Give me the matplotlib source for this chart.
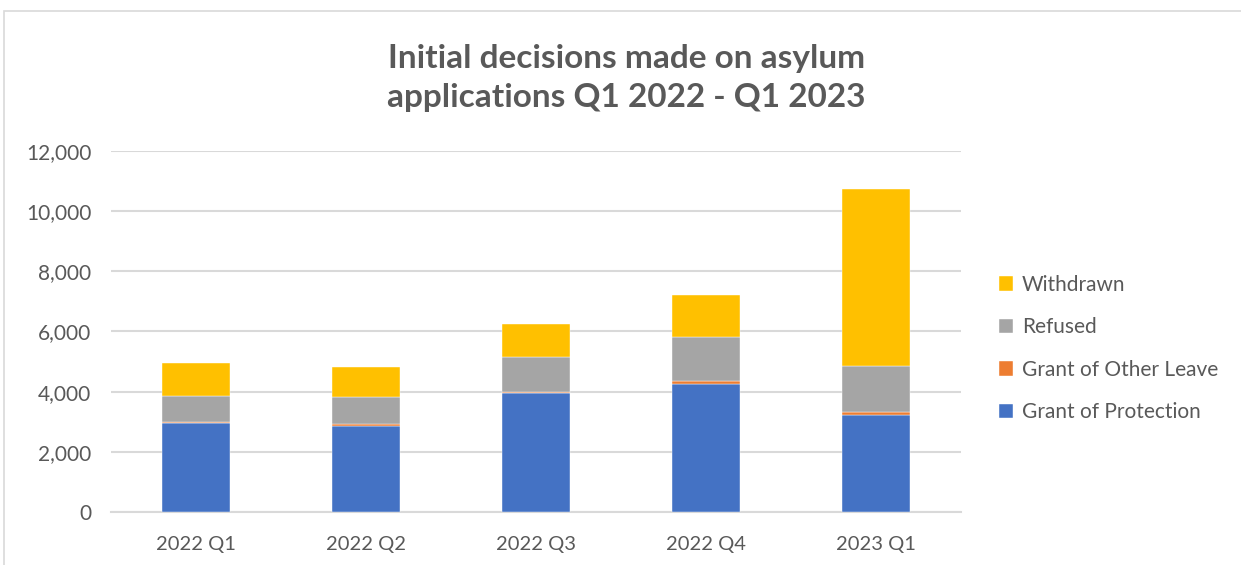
import matplotlib
matplotlib.use('Agg')
import matplotlib.pyplot as plt
from matplotlib.patches import Rectangle
import numpy as np

## Data
quarters = ["2022 Q1", "2022 Q2", "2022 Q3", "2022 Q4", "2023 Q1"]
protection = [2960, 2870, 3950, 4270, 3220]
other_leave = [40, 50, 40, 70, 90]
refused = [870, 890, 1150, 1480, 1550]
withdrawn = [1070, 1000, 1120, 1400, 5870]

series = [
    ("Grant of Protection", protection, "#4472C4"),
    ("Grant of Other Leave", other_leave, "#ED7D31"),
    ("Refused", refused, "#A5A5A5"),
    ("Withdrawn", withdrawn, "#FFC000"),
]

txt = "#595959"
grid = "#D9D9D9"
font = "Lato"

fig = plt.figure(figsize=(12.41, 5.65), dpi=100)
fig.patches.append(Rectangle((4 / 1241, -0.01), 1.0, (565 - 11) / 565 + 0.01,
                             transform=fig.transFigure, fill=False,
                             edgecolor="#D9D9D9", linewidth=1.2))
ax = fig.add_axes([0.0894, 0.0938, 0.685, 0.639])

x = np.arange(len(quarters))
bottom = np.zeros(len(quarters))
handles = {}
for name, vals, color in series:
    b = ax.bar(x, vals, width=0.4, bottom=bottom, color=color,
               edgecolor="white", linewidth=0.3, label=name, zorder=3)
    handles[name] = b
    bottom += np.array(vals)

ax.set_xlim(-0.5, len(quarters) - 0.5)
ax.set_ylim(0, 12000)
ax.set_yticks(np.arange(0, 12001, 2000))
ax.set_yticklabels([f"{v:,}" for v in range(0, 12001, 2000)])
ax.set_xticks(x)
ax.set_xticklabels(quarters)
ax.yaxis.grid(True, color=grid, linewidth=1.5, zorder=0)
for s in ["top", "right", "left"]:
    ax.spines[s].set_visible(False)
ax.spines["bottom"].set_color(grid)
ax.spines["bottom"].set_linewidth(1.5)
ax.tick_params(length=0, labelcolor=txt, labelsize=15)
ax.tick_params(axis="y", pad=14)
ax.tick_params(axis="x", pad=17, labelsize=14.5)
for lab in ax.get_xticklabels() + ax.get_yticklabels():
    lab.set_fontfamily(font)

fig.text(0.5045, 1 - 78 / 565, "Initial decisions made on asylum\napplications Q1 2022 - Q1 2023",
         ha="center", va="center", fontsize=24, fontweight="bold", color=txt,
         family=font, linespacing=1.4)

order = ["Withdrawn", "Refused", "Grant of Other Leave", "Grant of Protection"]
leg = fig.legend([handles[n] for n in order], order, loc="upper left",
                 bbox_to_anchor=(980 / 1241, 1 - 256 / 565), frameon=False,
                 handlelength=0.7, handleheight=0.7, handletextpad=0.4,
                 labelspacing=1.08, prop={"family": font, "size": 15})
for t in leg.get_texts():
    t.set_color(txt)

plt.savefig("out.png", dpi=100)
